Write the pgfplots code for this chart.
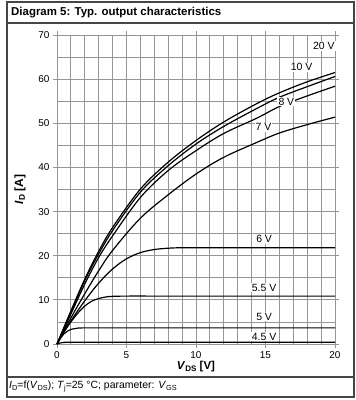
\documentclass[border=0pt]{standalone}
\usepackage{fontspec}
\setmainfont{Liberation Sans}
\usepackage{pgfplots}
\pgfplotsset{compat=1.18}
\newcommand\sub[1]{\raisebox{-0.3ex}{\scalebox{0.7}{#1}}}
\definecolor{gridc}{RGB}{150,150,150}
\definecolor{framec}{RGB}{70,70,70}
\pgfplotsset{curve/.style={black, line width=1.2bp, smooth, tension=0.55, mark=none}}
\begin{document}
\begin{tikzpicture}[x=1bp,y=1bp]
\path (-57,-56) rectangle (299,344);
\begin{axis}[at={(0,0)}, anchor=south west, scale only axis,
  width=278bp, height=309bp,
  xmin=0, xmax=20, ymin=0, ymax=70,
  xtick={0,5,...,20}, ytick={0,10,...,70},
  minor x tick num=4, minor y tick num=1,
  grid=both,
  major grid style={gridc, line width=0.8bp},
  minor grid style={gridc, line width=0.8bp},
  axis line style={gridc, line width=0.8bp},
  tick align=outside, major tick length=4bp, minor tick length=0pt,
  tick style={gridc, line width=0.8bp},
  ticklabel style={font=\fontsize{10}{11}\selectfont},
  /pgf/number format/assume math mode=true,
  clip=false]
\addplot[curve] coordinates {(0,0)(1,7.5)(2,14.7)(3,21)(4,26.4)(6,35.1)(8,41.2)(10,46.1)(12,50.3)(14.4,54.5)(16,56.9)(18,59.4)(20,61.5)};
\addplot[curve] coordinates {(0,0)(1,7.2)(2,14.4)(3,20.4)(4,25.7)(6,34.4)(8,40.4)(10,45.3)(12,49.3)(14.4,53.4)(16,55.9)(18,58.3)(20,60.6)};
\addplot[curve] coordinates {(0,0)(1,6.8)(2,13.6)(3,19.6)(4,24.5)(6,33.2)(8,39.3)(10,43.8)(12,47.7)(14.4,51.2)(16,53.8)(18,56.2)(20,58.4)};
\addplot[curve] coordinates {(0,0)(1,5.9)(2,11.4)(3,16.6)(4,21.2)(6,28.5)(8,33.8)(10,38.5)(12,42.3)(14.4,45.7)(16,47.8)(18,49.7)(20,51.4)};
\addplot[curve] coordinates {(0,0)(1,5.2)(2,9.8)(3,13.8)(4,17.0)(5,19.3)(6,20.7)(7,21.4)(8,21.7)(9,21.8)(12,21.8)(20,21.8)};
\addplot[curve] coordinates {(0,0)(0.5,2.8)(1,5.0)(1.5,7.0)(2,8.6)(2.5,9.7)(3,10.3)(3.5,10.65)(4,10.8)(5,10.85)(8,10.85)(20,10.85)};
\addplot[curve] coordinates {(0,0)(0.25,1.3)(0.5,2.3)(0.75,2.9)(1,3.3)(1.5,3.6)(2,3.65)(5,3.65)(20,3.65)};
\addplot[curve] coordinates {(0,0)(0.25,0.25)(0.5,0.35)(1,0.4)(2,0.4)(20,0.4)};
\begin{scope}[every node/.style={fill=white, inner sep=1bp, font=\fontsize{10.5}{11}\selectfont}]
\node at (axis cs:19.2,67.5) {20 V};
\node at (axis cs:17.6,62.7) {10 V};
\node at (axis cs:16.5,54.9) {8 V};
\node at (axis cs:14.85,49.1) {7 V};
\node at (axis cs:14.9,23.7) {6 V};
\node at (axis cs:14.9,12.75) {5.5 V};
\node at (axis cs:14.9,6.2) {5 V};
\node at (axis cs:14.9,1.65) {4.5 V};
\end{scope}
\end{axis}
% frame
\draw[framec, line width=1.2bp] (-50,-53) rectangle (297,342);
\draw[framec, line width=1.2bp] (-50,321) -- (297,321);
\draw[framec, line width=1.2bp] (-50,-33) -- (297,-33);
\node[anchor=west, inner sep=0pt, font=\fontsize{11.5}{12}\selectfont\bfseries] at (-46,331.5) {Diagram 5: Typ. output characteristics};
\node[rotate=90, inner sep=0pt, font=\fontsize{12}{13}\selectfont\bfseries] at (-37,154.5) {\textit{I}\sub{D} [A]};
\node[inner sep=0pt, font=\fontsize{11.5}{12}\selectfont\bfseries] at (139,-23) {\textit{V}\sub{DS} [V]};
\node[anchor=west, inner sep=0pt, font=\fontsize{10.5}{11}\selectfont] at (-48,-42.5) {\textit{I}\sub{D}=f(\textit{V}\sub{DS}); \textit{T}\sub{j}=25 °C; parameter: \textit{V}\sub{GS}};
\end{tikzpicture}
\end{document}
